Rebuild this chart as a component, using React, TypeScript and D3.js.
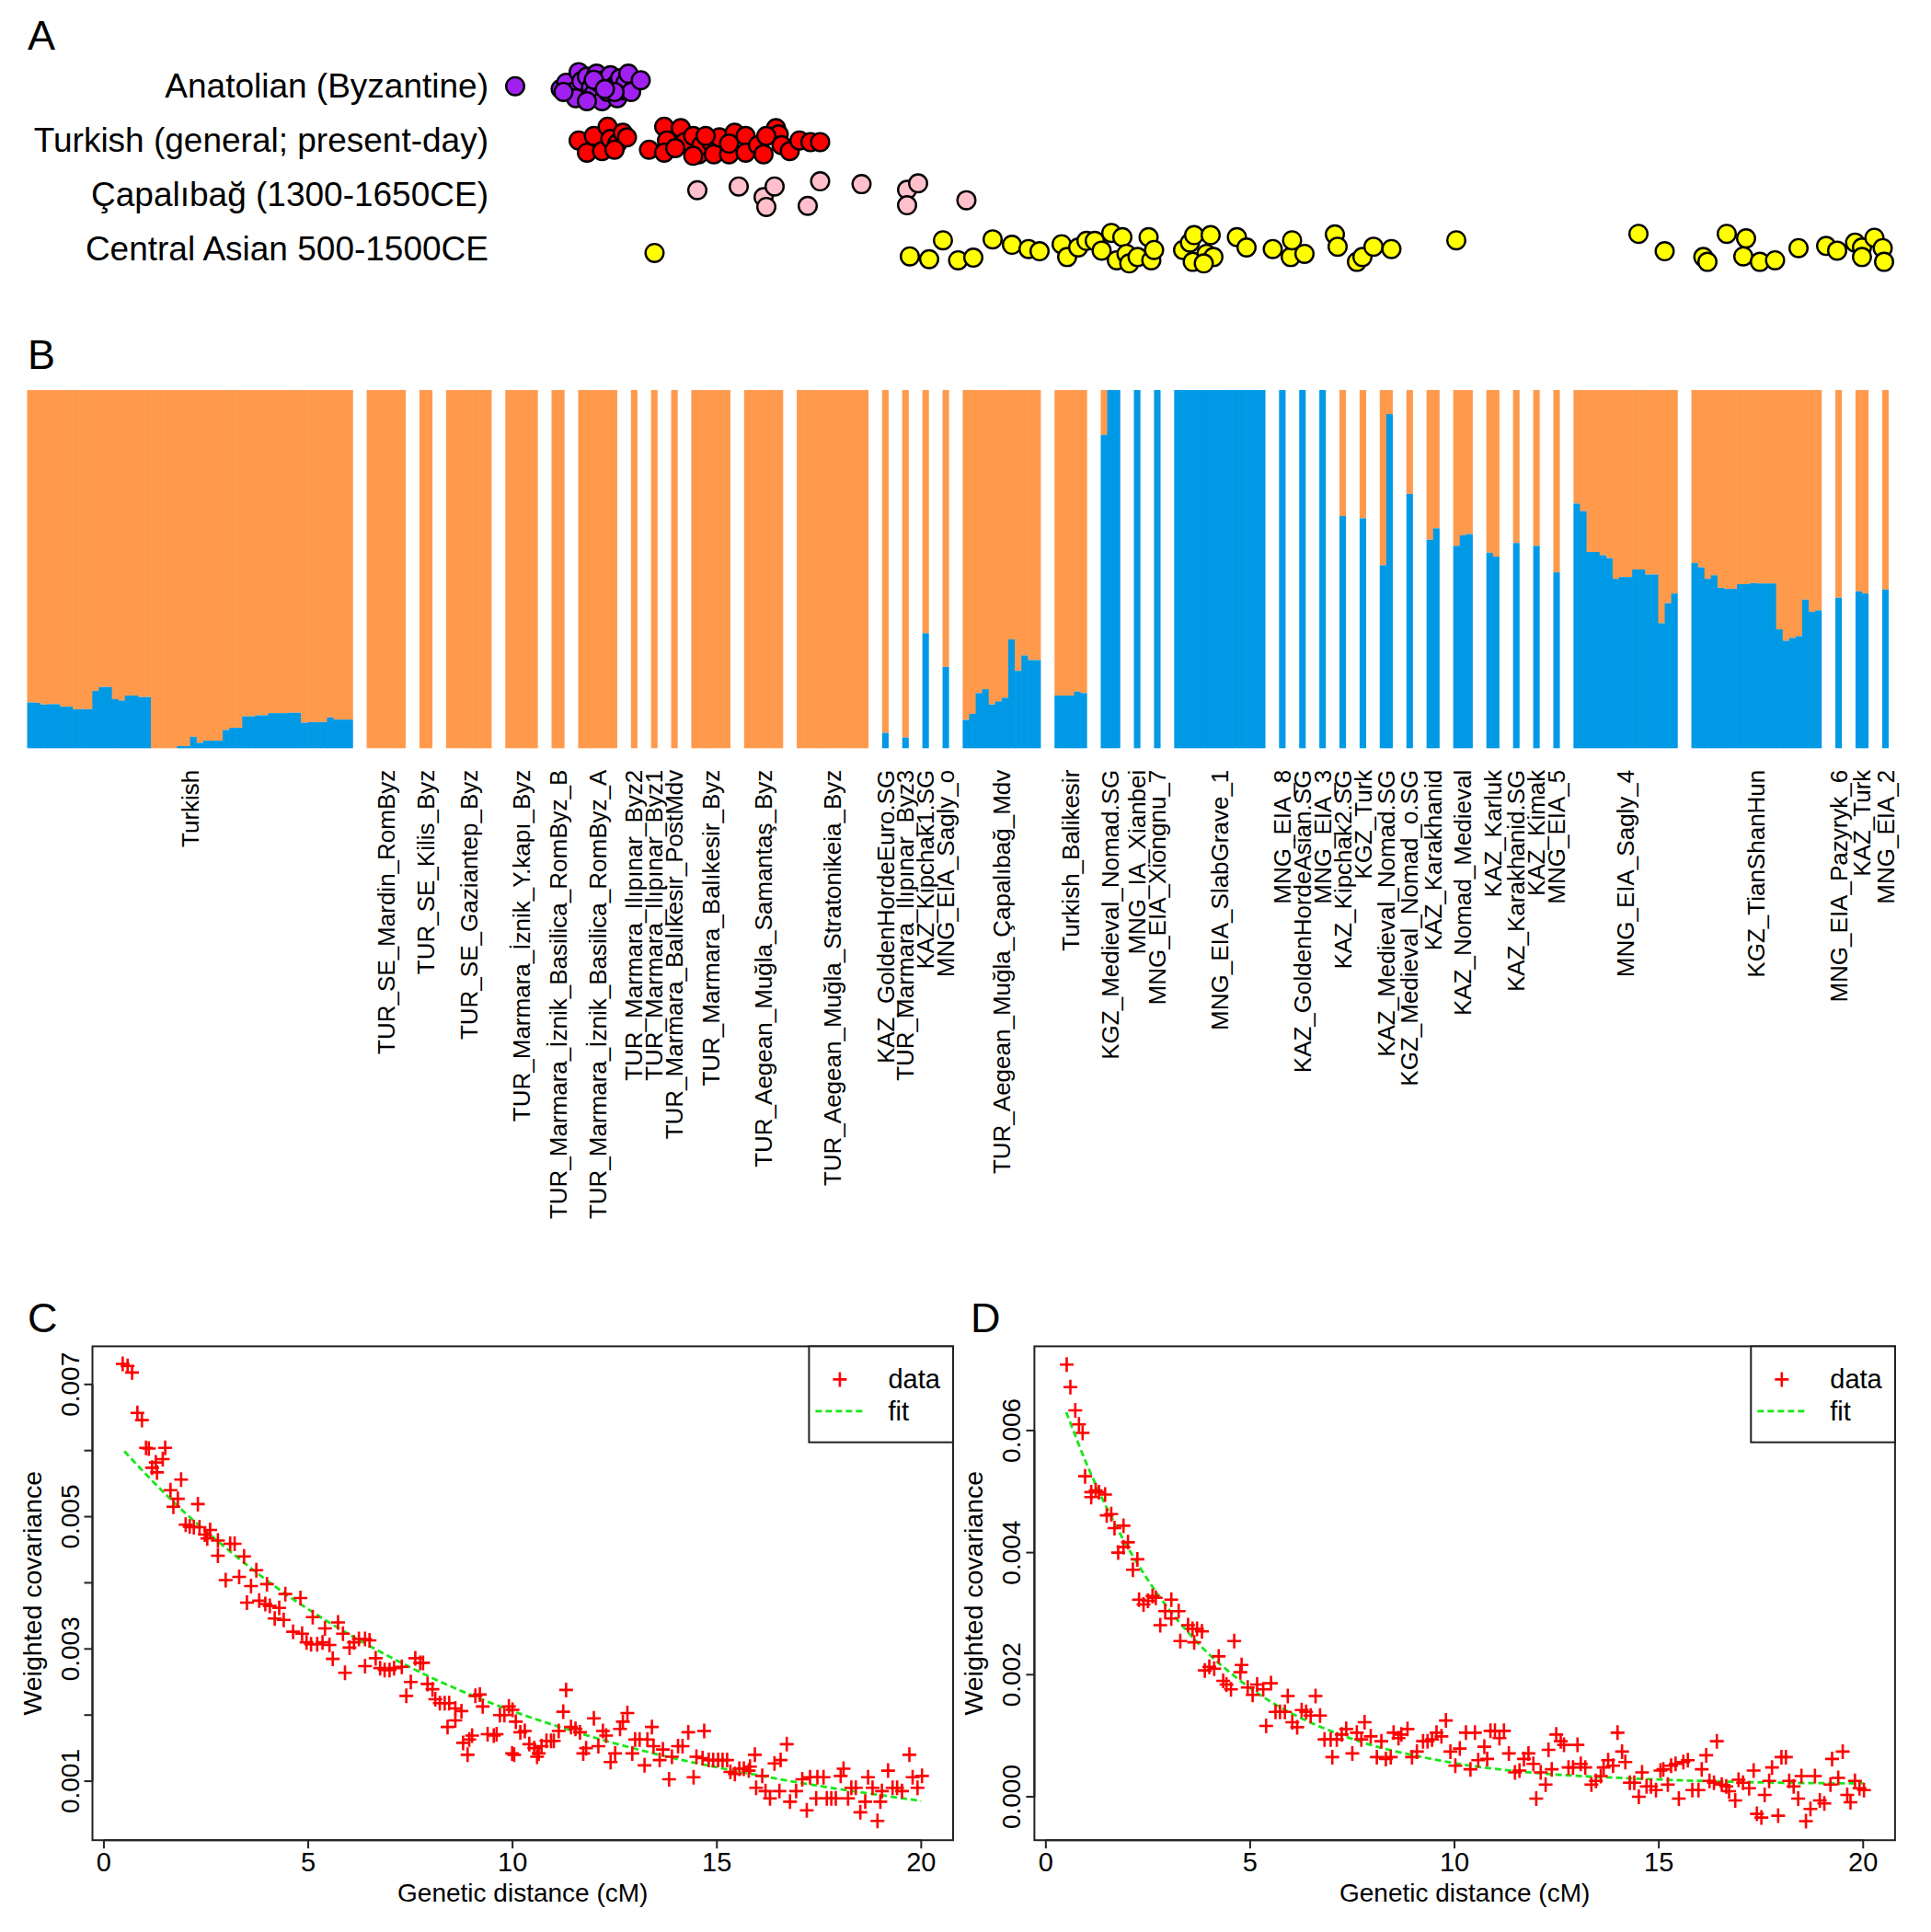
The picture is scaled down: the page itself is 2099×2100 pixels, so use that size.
import React from 'react';
import * as d3 from 'd3';

const W = 2099;
const H = 2100;
const FONT = '"Liberation Sans", Arial, Helvetica, sans-serif';

// ---------------- Panel A ----------------
const rowLabels = ['Anatolian (Byzantine)', 'Turkish (general; present-day)', 'Çapalıbağ (1300-1650CE)', 'Central Asian 500-1500CE'];
const rowColors = ['#A020F0', '#FF0000', '#FFC0CB', '#FFFF00'];
// [value, jitter]
const anatolianPts: [number, number][] = [
  [0.008, 0.04], [0.041, 0.22], [0.045, -0.18], [0.050, 0.41], [0.054, -0.86], [0.056, -0.28], [0.058, 0.81], [0.060, -0.57],
  [0.063, 0.12], [0.065, 0.51], [0.067, -0.76], [0.069, -0.18], [0.071, 1.0], [0.073, -0.37], [0.075, 0.41], [0.077, -0.66],
  [0.080, 0.02], [0.082, 0.81], [0.084, -0.47], [0.086, 0.31], [0.088, -0.18], [0.090, -0.76], [0.092, 0.41], [0.099, -0.34],
  [0.052, 0.81], [0.060, 1.0], [0.043, 0.41], [0.080, 0.41], [0.065, -0.37], [0.073, 0.22],
];
const turkishPts: [number, number][] = [
  [0.054, 0.04], [0.060, 0.82], [0.065, -0.25], [0.071, 0.72], [0.075, -0.84], [0.077, -0.06], [0.082, 0.24], [0.086, -0.45],
  [0.089, -0.16], [0.080, 0.63], [0.105, 0.63], [0.116, -0.84], [0.118, 0.04], [0.116, 0.82], [0.128, -0.75], [0.131, 0.14],
  [0.137, -0.25], [0.141, 0.92], [0.143, 0.34], [0.150, 0.14], [0.152, 0.92], [0.156, -0.16], [0.163, 0.92], [0.167, -0.45],
  [0.175, -0.25], [0.175, 0.82], [0.184, 0.34], [0.188, 0.92], [0.197, -0.75], [0.199, -0.35], [0.201, 0.34], [0.207, 0.72],
  [0.214, 0.04], [0.222, 0.14], [0.229, 0.14], [0.124, 0.53], [0.146, -0.25], [0.163, 0.24], [0.190, -0.25], [0.137, 1.02],
];
const capalibagPts: [number, number][] = [
  [0.140, -0.25], [0.170, -0.49], [0.188, 0.19], [0.190, 0.82], [0.196, -0.49], [0.220, 0.75], [0.229, -0.82], [0.259, -0.64],
  [0.292, -0.28], [0.300, -0.69], [0.292, 0.71], [0.335, 0.39],
];
const centralAsianPts: [number, number][] = [
  [0.109, 0.29], [0.294, 0.51], [0.308, 0.69], [0.318, -0.52], [0.329, 0.76], [0.340, 0.59], [0.354, -0.58], [0.368, -0.23],
  [0.380, 0.04], [0.388, 0.18], [0.404, -0.27], [0.408, 0.55], [0.416, -0.06], [0.422, -0.48], [0.428, -0.48], [0.433, 0.14],
  [0.440, -0.99], [0.444, 0.76], [0.448, -0.72], [0.451, 0.35], [0.453, 0.96], [0.459, 0.55], [0.467, -0.72], [0.469, 0.76],
  [0.471, 0.10], [0.492, 0.10], [0.497, -0.37], [0.500, -0.85], [0.499, 0.86], [0.509, 0.35], [0.512, -0.85], [0.514, 0.55],
  [0.507, 0.96], [0.531, -0.72], [0.538, -0.06], [0.557, 0.04], [0.570, 0.55], [0.571, -0.52], [0.580, 0.35], [0.602, -0.89],
  [0.604, -0.11], [0.618, 0.86], [0.622, 0.55], [0.630, -0.11], [0.643, 0.04], [0.690, -0.52], [0.822, -0.93], [0.841, 0.18],
  [0.869, 0.55], [0.872, 0.86], [0.886, -0.93], [0.900, -0.64], [0.898, 0.51], [0.910, 0.86], [0.921, 0.76], [0.938, -0.02],
  [0.958, -0.16], [0.966, 0.14], [0.979, -0.37], [0.984, -0.06], [0.984, 0.55], [0.993, -0.68], [0.999, -0.02], [1.0, 0.86],
];
const rowPoints = [anatolianPts, turkishPts, capalibagPts, centralAsianPts];

// ---------------- Panel B ----------------
const popLabels = [
  'Turkish', 'TUR_SE_Mardin_RomByz', 'TUR_SE_Kilis_Byz', 'TUR_SE_Gaziantep_Byz', 'TUR_Marmara_İznik_Y.kapı_Byz',
  'TUR_Marmara_İznik_Basilica_RomByz_B', 'TUR_Marmara_İznik_Basilica_RomByz_A', 'TUR_Marmara_Ilıpınar_Byz2',
  'TUR_Marmara_Ilıpınar_Byz1', 'TUR_Marmara_Balıkesir_PostMdv', 'TUR_Marmara_Balıkesir_Byz', 'TUR_Aegean_Muğla_Samantaş_Byz',
  'TUR_Aegean_Muğla_Stratonikeia_Byz', 'KAZ_GoldenHordeEuro.SG', 'TUR_Marmara_Ilıpınar_Byz3', 'KAZ_Kipchak1.SG',
  'MNG_EIA_Sagly_o', 'TUR_Aegean_Muğla_Çapalıbağ_Mdv', 'Turkish_Balikesir', 'KGZ_Medieval_Nomad.SG', 'MNG_IA_Xianbei',
  'MNG_EIA_Xiongnu_7', 'MNG_EIA_SlabGrave_1', 'MNG_EIA_8', 'KAZ_GoldenHordeAsian.SG', 'MNG_EIA_3', 'KAZ_Kipchak2.SG',
  'KGZ_Turk', 'KAZ_Medieval_Nomad.SG', 'KGZ_Medieval_Nomad_o.SG', 'KAZ_Karakhanid', 'KAZ_Nomad_Medieval', 'KAZ_Karluk',
  'KAZ_Karakhanid.SG', 'KAZ_Kimak', 'MNG_EIA_5', 'MNG_EIA_Sagly_4', 'KGZ_TianShanHun', 'MNG_EIA_Pazyryk_6', 'KAZ_Turk', 'MNG_EIA_2',
];
// blue ancestry fraction per individual, one list per population
const popBlue: number[][] = [
  [0.128, 0.127, 0.122, 0.123, 0.123, 0.116, 0.116, 0.109, 0.109, 0.109, 0.160, 0.171, 0.171, 0.137, 0.133, 0.147, 0.147,
    0.143, 0.143, 0, 0, 0, 0, 0.006, 0.006, 0.032, 0.015, 0.021, 0.021, 0.021, 0.051, 0.057, 0.057, 0.089, 0.089, 0.092,
    0.092, 0.098, 0.098, 0.098, 0.099, 0.099, 0.071, 0.073, 0.073, 0.073, 0.086, 0.080, 0.080, 0.080],
  [0, 0, 0, 0, 0, 0],
  [0, 0],
  [0, 0, 0, 0, 0, 0, 0],
  [0, 0, 0, 0, 0],
  [0, 0],
  [0, 0, 0, 0, 0, 0],
  [0],
  [0],
  [0],
  [0, 0, 0, 0, 0, 0],
  [0, 0, 0, 0, 0, 0],
  [0, 0, 0, 0, 0, 0, 0, 0, 0, 0, 0],
  [0.043],
  [0.030],
  [0.321],
  [0.227],
  [0.079, 0.096, 0.154, 0.165, 0.122, 0.131, 0.141, 0.304, 0.216, 0.259, 0.246, 0.246],
  [0.147, 0.147, 0.147, 0.158, 0.154],
  [0.875, 1, 1],
  [1],
  [1],
  [1, 1, 1, 1, 1, 1, 1, 1, 1, 1, 1, 1, 1, 1],
  [1],
  [1],
  [1],
  [0.648],
  [0.642],
  [0.511, 0.933],
  [0.710],
  [0.582, 0.614],
  [0.565, 0.595, 0.598],
  [0.546, 0.535],
  [0.573],
  [0.565],
  [0.491],
  [0.683, 0.662, 0.548, 0.548, 0.539, 0.531, 0.473, 0.478, 0.478, 0.499, 0.499, 0.485, 0.485, 0.349, 0.405, 0.432],
  [0.517, 0.505, 0.473, 0.483, 0.448, 0.445, 0.445, 0.458, 0.458, 0.461, 0.460, 0.460, 0.460, 0.332, 0.300, 0.308, 0.313,
    0.415, 0.381, 0.385],
  [0.420],
  [0.438, 0.432],
  [0.443],
];
const ORANGE = '#FF9A4D';
const BLUE = '#0099E6';

// ---------------- Panels C & D (covariance in units of 1e-3) ----------------
const covC: [number, number][] = [
  [0.46, 7.31], [0.58, 7.28], [0.69, 7.18], [0.82, 6.57], [0.93, 6.46], [1.03, 6.04], [1.10, 6.03], [1.18, 5.74], [1.27, 5.82],
  [1.30, 5.67], [1.44, 5.87], [1.50, 6.04], [1.63, 5.40], [1.70, 5.15], [1.81, 5.27], [1.89, 5.56], [2.00, 4.88], [2.10, 4.85],
  [2.20, 4.84], [2.30, 5.19], [2.34, 4.84], [2.47, 4.73], [2.53, 4.67], [2.60, 4.80], [2.79, 4.64], [2.79, 4.41], [2.98, 4.04],
  [3.09, 4.59], [3.20, 4.59], [3.31, 4.09], [3.43, 4.40], [3.50, 3.70], [3.60, 3.95], [3.73, 4.19], [3.80, 3.73], [3.95, 3.68],
  [3.99, 3.98], [4.06, 3.65], [4.18, 3.46], [4.29, 3.62], [4.40, 3.44], [4.44, 3.83], [4.63, 3.26], [4.81, 3.77], [4.85, 3.23],
  [4.96, 3.10], [5.07, 3.07], [5.11, 3.48], [5.22, 3.07], [5.35, 3.10], [5.41, 3.31], [5.52, 3.06], [5.60, 2.85], [5.73, 3.40],
  [5.85, 3.23], [5.90, 2.64], [6.01, 3.02], [6.12, 3.10], [6.24, 3.15], [6.39, 3.15], [6.39, 2.74], [6.50, 3.13], [6.65, 2.86],
  [6.76, 2.71], [6.87, 2.68], [6.99, 2.68], [7.10, 2.71], [7.29, 2.73], [7.40, 2.29], [7.51, 2.50], [7.62, 2.86], [7.74, 2.79],
  [7.81, 2.79], [7.92, 2.47], [8.04, 2.39], [8.11, 2.24], [8.22, 2.18], [8.34, 2.18], [8.41, 1.82], [8.45, 2.18], [8.60, 2.10],
  [8.60, 1.92], [8.75, 2.06], [8.79, 1.58], [8.90, 1.40], [8.94, 1.63], [9.01, 1.69], [9.09, 2.29], [9.20, 2.31], [9.27, 2.13],
  [9.39, 1.71], [9.54, 1.69], [9.61, 1.71], [9.69, 2.00], [9.80, 2.00], [9.91, 2.13], [9.99, 1.42],
  [10.00, 2.08], [10.08, 1.90], [10.19, 1.74], [10.30, 1.76], [10.04, 1.40], [10.41, 1.56], [10.53, 1.50], [10.64, 1.42],
  [10.60, 1.37], [10.71, 1.53], [10.83, 1.61], [10.94, 1.61], [11.01, 1.61], [11.13, 1.76], [11.24, 2.05], [11.31, 2.38],
  [11.43, 1.82], [11.54, 1.79], [11.65, 1.74], [11.73, 1.42], [11.80, 1.50], [11.99, 1.95], [12.10, 1.53], [12.21, 1.76],
  [12.29, 1.69], [12.40, 1.29], [12.51, 1.42], [12.63, 1.79], [12.70, 1.90], [12.81, 2.03], [12.93, 1.42], [13.00, 1.63],
  [13.11, 1.63], [13.23, 1.24], [13.30, 1.63], [13.41, 1.82], [13.45, 1.53], [13.60, 1.32], [13.68, 1.48], [13.83, 1.03],
  [13.90, 1.37], [14.05, 1.53], [14.16, 1.53], [14.30, 1.74], [14.43, 1.06], [14.50, 1.37], [14.69, 1.76], [14.65, 1.35],
  [14.80, 1.32], [14.91, 1.32], [15.03, 1.32], [15.14, 1.32], [15.25, 1.32], [15.33, 1.14], [15.44, 1.11], [15.55, 1.19],
  [15.66, 1.19], [15.78, 1.16], [15.93, 1.40], [15.81, 1.22], [15.96, 0.90], [16.11, 1.08], [16.19, 0.85], [16.30, 0.74],
  [16.41, 1.27], [16.56, 1.32], [16.71, 1.56], [16.53, 0.85], [16.79, 0.69], [16.94, 0.85], [17.09, 1.03], [17.20, 0.56],
  [17.28, 1.06], [17.43, 0.74], [17.46, 1.06], [17.61, 1.06], [17.69, 0.74], [17.80, 0.74], [17.91, 0.74], [18.03, 1.08],
  [18.10, 1.19], [18.21, 0.74], [18.29, 0.90], [18.40, 0.90], [18.51, 0.53], [18.63, 0.69], [18.70, 1.06], [18.81, 0.90],
  [18.93, 0.40], [19.00, 0.69], [19.04, 0.85], [19.19, 1.16], [19.30, 0.90], [19.41, 0.90], [19.53, 0.85], [19.71, 1.40],
  [19.79, 1.06], [19.91, 0.90], [20.02, 1.08],
];
const fitC: [number, number][] = [
  [0.5, 5.99], [1, 5.66], [2, 5.05], [3, 4.52], [4, 4.03], [5, 3.60], [6, 3.22], [7, 2.88], [8, 2.57], [9, 2.30], [10, 2.06],
  [11, 1.85], [12, 1.66], [13, 1.49], [14, 1.34], [15, 1.21], [16, 1.09], [17, 0.98], [18, 0.88], [19, 0.79], [20, 0.70],
];
const covD: [number, number][] = [
  [0.51, 7.08], [0.60, 6.71], [0.72, 6.33], [0.81, 6.10], [0.90, 5.96], [0.96, 5.25], [1.11, 4.99], [1.22, 5.02], [1.30, 4.99],
  [1.45, 4.95], [1.11, 4.91], [1.49, 4.61], [1.60, 4.63], [1.68, 4.40], [1.90, 4.44], [2.01, 4.17], [1.77, 4.00], [1.90, 4.09],
  [2.24, 3.89], [2.13, 3.72], [2.28, 3.23], [2.39, 3.15], [2.50, 3.21], [2.61, 3.29], [2.69, 3.26], [3.07, 3.23], [2.92, 3.04],
  [3.07, 2.92], [2.80, 2.81], [3.25, 3.04], [3.29, 2.55], [3.48, 2.81], [3.59, 2.75], [3.70, 2.75], [3.82, 2.71], [3.63, 2.53],
  [4.61, 2.55], [3.89, 2.07], [4.00, 2.13], [4.12, 2.10], [4.23, 2.30], [4.34, 1.90], [4.42, 1.84], [4.53, 1.76], [4.79, 2.16],
  [4.76, 2.04], [4.94, 1.79], [5.06, 1.67], [5.17, 1.84], [5.32, 1.76], [5.51, 1.86], [5.39, 1.16], [5.62, 1.39], [5.73, 1.39],
  [5.85, 1.39], [5.92, 1.65], [6.03, 1.22], [6.15, 1.14], [6.26, 1.42], [6.37, 1.39], [6.48, 1.33], [6.60, 1.65], [6.71, 1.33],
  [6.82, 0.94], [6.97, 0.94], [7.01, 0.65], [7.12, 0.94], [7.24, 1.02], [7.35, 1.11], [7.50, 0.71], [7.61, 1.05], [7.72, 0.94],
  [7.80, 1.22], [7.95, 0.99], [8.10, 0.65], [8.21, 0.91], [8.32, 0.62], [8.44, 0.65], [8.51, 1.05], [8.63, 0.96], [8.70, 1.02],
  [8.85, 1.11], [8.96, 0.65], [9.08, 0.74], [9.23, 0.91], [9.34, 0.91], [9.45, 0.94], [9.56, 1.05], [9.68, 0.99], [9.79, 1.25],
  [9.90, 0.74], [10.02, 0.51], [10.13, 0.79], [10.28, 1.05], [10.39, 0.45],
  [10.50, 1.05], [10.58, 0.60], [10.73, 0.82], [10.80, 0.62], [10.88, 1.08], [10.99, 1.08], [11.10, 0.96], [11.21, 1.08],
  [11.33, 0.71], [11.48, 0.40], [11.59, 0.43], [11.70, 0.62], [11.81, 0.71], [11.93, 0.54], [12.00, -0.03], [12.11, 0.40],
  [12.23, 0.20], [12.30, 0.77], [12.38, 0.45], [12.49, 1.02], [12.60, 0.91], [12.68, 0.85], [12.79, 0.48], [12.90, 0.48],
  [13.01, 0.85], [13.09, 0.54], [13.20, 0.48], [13.35, 0.20], [13.46, 0.26], [13.58, 0.34], [13.65, 0.48], [13.76, 0.60],
  [13.88, 0.51], [13.99, 1.05], [14.10, 0.74], [14.18, 0.57], [14.29, 0.23], [14.40, 0.23], [14.51, 0], [14.59, 0.40],
  [14.70, 0.17], [14.81, 0.17], [14.93, 0.11], [15.04, 0.43], [15.11, 0.45], [15.22, 0.20], [15.30, 0.51], [15.41, 0.54],
  [15.49, -0.03], [15.60, 0.57], [15.71, 0.60], [15.82, 0.11], [15.97, 0.11], [16.05, 0.45], [16.16, 0.68], [16.24, 0.26],
  [16.35, 0.23], [16.42, 0.91], [16.54, 0.20], [16.65, 0.17], [16.72, 0.09], [16.87, -0.06], [16.95, 0.28], [17.06, 0.23],
  [17.21, 0.14], [17.32, 0.43], [17.40, -0.28], [17.51, -0.34], [17.59, 0.03], [17.70, 0.26], [17.77, 0.48], [17.92, -0.31],
  [18.00, 0.65], [18.11, 0.65], [18.19, 0.26], [18.30, 0.17], [18.41, -0.03], [18.49, 0.34], [18.60, -0.40], [18.71, -0.20],
  [18.82, 0.34], [18.94, -0.06], [19.05, -0.11], [19.20, 0.20], [19.24, 0.62], [19.39, 0.31], [19.50, 0.74], [19.61, 0.03],
  [19.69, -0.09], [19.80, 0.26], [19.91, 0.14], [20.02, 0.11],
];
const fitD: [number, number][] = [
  [0.5, 6.30], [1, 5.45], [1.5, 4.72], [2, 4.09], [2.5, 3.55], [3, 3.08], [3.5, 2.68], [4, 2.33], [4.5, 2.04], [5, 1.78],
  [6, 1.37], [7, 1.07], [8, 0.84], [9, 0.68], [10, 0.55], [12, 0.39], [14, 0.31], [16, 0.26], [18, 0.23], [20, 0.22],
];
const xTicks = [0, 5, 10, 15, 20];
const yTicksC = [1, 2, 3, 4, 5, 6, 7];
const yLabelsC = [1, 3, 5, 7];
const yTicksD = [0, 2, 4, 6];
const yLabelsD = [0, 2, 4, 6];

const RED = '#FF0000';
const GREEN = '#19E619';
const AXIS = '#222';

type PanelProps = {
  letter: string;
  letterX: number;
  l: number; r: number; t: number; b: number;
  yDomain: [number, number];
  yTicks: number[];
  yLabels: number[];
  data: [number, number][];
  fit: [number, number][];
};

function plusPath(px: number, py: number) {
  return `M${px - 7.5},${py}h15M${px},${py - 8}v16`;
}

function DecayPanel(p: PanelProps) {
  const x = d3.scaleLinear().domain([-0.28, 20.78]).range([p.l, p.r]);
  const y = d3.scaleLinear().domain(p.yDomain).range([p.b, p.t]);
  const line = d3.line<[number, number]>().x(d => x(d[0])).y(d => y(d[1])).curve(d3.curveMonotoneX);
  const fmt = (v: number) => (v / 1000).toFixed(3);
  const legL = p.r - 156.6;
  const legB = p.t + 104.3;
  const cy = (p.t + p.b) / 2;
  const cx = (p.l + p.r) / 2;
  const tick = 9;
  return (
    <g>
      <text x={p.letterX} y={p.t - 15} fontSize={45} fontFamily={FONT}>{p.letter}</text>
      {/* fit line */}
      <path d={line(p.fit) || ''} fill="none" stroke={GREEN} strokeWidth={2.8} strokeDasharray="7,4" />
      {/* data */}
      {p.data.map((d, i) => (
        <path key={i} d={plusPath(x(d[0]), y(d[1]))} stroke={RED} strokeWidth={2.6} fill="none" />
      ))}
      {/* box */}
      <rect x={p.l} y={p.t} width={p.r - p.l} height={p.b - p.t} fill="none" stroke={AXIS} strokeWidth={2} />
      {/* x axis */}
      <line x1={x(xTicks[0])} x2={x(xTicks[xTicks.length - 1])} y1={p.b} y2={p.b} stroke={AXIS} strokeWidth={2} />
      {xTicks.map(v => (
        <g key={v}>
          <line x1={x(v)} x2={x(v)} y1={p.b} y2={p.b + tick} stroke={AXIS} strokeWidth={2} />
          <text x={x(v)} y={p.b + 34} fontSize={29} fontFamily={FONT} textAnchor="middle">{v}</text>
        </g>
      ))}
      <text x={cx} y={p.b + 67} fontSize={28} fontFamily={FONT} textAnchor="middle">Genetic distance (cM)</text>
      {/* y axis */}
      <line x1={p.l} x2={p.l} y1={y(p.yTicks[0])} y2={y(p.yTicks[p.yTicks.length - 1])} stroke={AXIS} strokeWidth={2} />
      {p.yTicks.map(v => (
        <line key={v} x1={p.l - tick} x2={p.l} y1={y(v)} y2={y(v)} stroke={AXIS} strokeWidth={2} />
      ))}
      {p.yLabels.map(v => (
        <text key={v} transform={`translate(${p.l - 15},${y(v)}) rotate(-90)`} fontSize={28} fontFamily={FONT} textAnchor="middle">{fmt(v)}</text>
      ))}
      <text transform={`translate(${p.l - 56},${cy}) rotate(-90)`} fontSize={28.5} fontFamily={FONT} textAnchor="middle">Weighted covariance</text>
      {/* legend */}
      <rect x={legL} y={p.t} width={p.r - legL} height={legB - p.t} fill="white" stroke={AXIS} strokeWidth={2} />
      <path d={plusPath(legL + 33.5, p.t + 36)} stroke={RED} strokeWidth={2.6} />
      <line x1={legL + 7} x2={legL + 61} y1={p.t + 70.5} y2={p.t + 70.5} stroke={GREEN} strokeWidth={2.8} strokeDasharray="7,4" />
      <text x={legL + 86} y={p.t + 46} fontSize={29} fontFamily={FONT}>data</text>
      <text x={legL + 86} y={p.t + 81} fontSize={29} fontFamily={FONT}>fit</text>
    </g>
  );
}

export default function App() {
  // Panel A scales
  const xA = d3.scaleLinear().domain([0, 1]).range([548, 2048]);
  const rowY = d3.scalePoint<string>().domain(rowLabels).range([93, 270]);
  const jitter = d3.scaleLinear().domain([-1, 1]).range([-17, 17]);

  // Panel B layout
  const gapUnits = 2.09;
  let pos = 0;
  const groups = popBlue.map((q, i) => {
    const start = pos;
    pos += q.length + gapUnits;
    return { name: popLabels[i], q, start };
  });
  const totalUnits = pos - gapUnits;
  const xB = d3.scaleLinear().domain([0, totalUnits]).range([29.5, 2053]);
  const yB = d3.scaleLinear().domain([0, 1]).range([813.3, 424]);
  const labelTop = 836.7;

  return (
    <div style={{ position: 'absolute', left: 0, top: 0 }}>
      <svg width={W} height={H} viewBox={`0 0 ${W} ${H}`} style={{ display: 'block', background: 'white' }}>
        <rect x={0} y={0} width={W} height={H} fill="white" />
        {/* Panel A */}
        <text x={30} y={54} fontSize={45} fontFamily={FONT}>A</text>
        {rowLabels.map((lab, i) => (
          <g key={lab}>
            <text x={531} y={(rowY(lab) as number) + 13} fontSize={37} fontFamily={FONT} textAnchor="end">{lab}</text>
            {rowPoints[i].map((pt, k) => (
              <circle key={k} cx={xA(pt[0])} cy={(rowY(lab) as number) + jitter(pt[1])} r={9.8}
                fill={rowColors[i]} stroke="#000" strokeWidth={2.4} />
            ))}
          </g>
        ))}

        {/* Panel B */}
        <text x={30} y={401} fontSize={45} fontFamily={FONT}>B</text>
        {groups.map(g => (
          <g key={g.name}>
            {g.q.map((v, k) => {
              const x0 = xB(g.start + k);
              const x1 = xB(g.start + k + 1);
              const w = x1 - x0 + (k < g.q.length - 1 ? 0.6 : 0);
              return (
                <g key={k}>
                  <rect x={x0} y={yB(1)} width={w} height={yB(v) - yB(1)} fill={ORANGE} />
                  <rect x={x0} y={yB(v)} width={w} height={yB(0) - yB(v)} fill={BLUE} />
                </g>
              );
            })}
            <text
              transform={`translate(${xB(g.start + g.q.length / 2)},${labelTop}) rotate(-90)`}
              dy="0.35em" fontSize={26} fontFamily={FONT} textAnchor="end">{g.name}</text>
          </g>
        ))}

        {/* Panels C and D */}
        <DecayPanel letter="C" letterX={30} l={100.5} r={1036} t={1463.4} b={2000.2}
          yDomain={[0.108, 7.576]} yTicks={yTicksC} yLabels={yLabelsC} data={covC} fit={fitC} />
        <DecayPanel letter="D" letterX={1055} l={1124.4} r={2059.9} t={1463.4} b={2000.2}
          yDomain={[-0.711, 7.379]} yTicks={yTicksD} yLabels={yLabelsD} data={covD} fit={fitD} />
      </svg>
    </div>
  );
}
